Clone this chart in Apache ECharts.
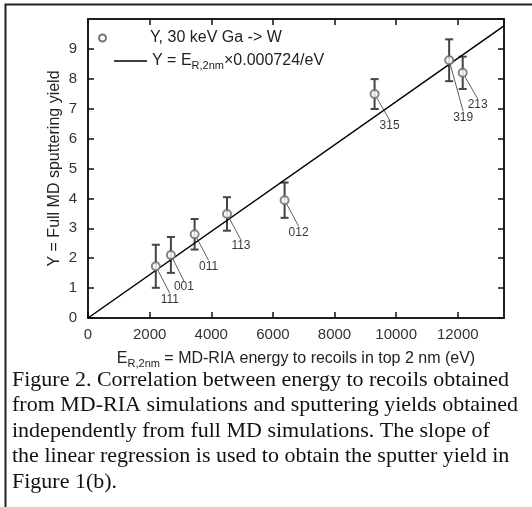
<!DOCTYPE html>
<html>
<head>
<meta charset="utf-8">
<script src="https://cdn.jsdelivr.net/npm/echarts@6/dist/echarts.min.js"></script>
<style>
  html, body { margin: 0; padding: 0; background: #fff; }
  #chart { width: 532px; height: 507px; }
</style>
</head>
<body>
<div id="chart"></div>
<script>
// surface planes and their MD-RIA recoil energy vs full MD yield
const planes = ["111", "001", "011", "113", "012", "315", "319", "213"];
const energy = [2200, 2690, 3460, 4510, 6380, 9300, 11720, 12160];
const yieldMD = [1.73, 2.11, 2.8, 3.48, 3.94, 7.49, 8.62, 8.2];
const yieldErr = [0.72, 0.6, 0.51, 0.56, 0.59, 0.5, 0.7, 0.54];

// regression line end points (slope 0.000724 / eV)
const fitX = [0, 13500];
const fitY = [0, 9.77];

const caption = [
  "Figure 2. Correlation between energy to recoils obtained",
  "from MD-RIA simulations and sputtering yields obtained",
  "independently from full MD simulations. The slope of",
  "the linear regression is used to obtain the sputter yield in",
  "Figure 1(b)."
];

// where each plane label sits relative to its point
const labelOffsets = [[14, 33], [13, 32], [14, 32], [14, 32], [14, 32], [15, 32], [14, 57], [15, 32]];

const font = "Liberation Sans";
const dataName = "Y, 30 keV Ga -> W";
const fitName = "Y = ER,2nm×0.000724/eV";

let pts = energy.map((x, i) => ({ value: [x, yieldMD[i]], name: planes[i] }));
let bars = energy.map((x, i) => [x, yieldMD[i] - yieldErr[i], yieldMD[i] + yieldErr[i]]);
let fitData = fitX.map((x, i) => [x, fitY[i]]);

const subRich = {
  t: { fontSize: 16, fontFamily: font, color: "#222", lineHeight: 20 },
  sub: { fontSize: 11, fontFamily: font, color: "#222", verticalAlign: "bottom", lineHeight: 10 },
  pad: { width: 26 }
};

const tickStyle = { inside: true, length: 6, lineStyle: { color: "#111", width: 1.5 } };
const lineStyle = { onZero: false, lineStyle: { color: "#111", width: 1.5 } };

let myChart = echarts.init(document.getElementById("chart"));
let option = {
  animation: false,
  backgroundColor: "#fff",
  grid: {
    left: 88,
    top: 19,
    right: 28,
    bottom: 189,
    show: true,
    borderColor: "#111",
    borderWidth: 1.5
  },
  legend: [
    {
      data: [{ name: dataName, icon: "emptyCircle" }],
      left: 98,
      top: 30,
      padding: 0,
      itemWidth: 33,
      itemHeight: 7,
      itemStyle: { color: "#555", borderWidth: 1 },
      formatter: (name) => "{pad| }{t|" + name + "}",
      textStyle: { rich: subRich }
    },
    {
      data: [{ name: fitName, icon: "rect" }],
      left: 114,
      top: 53,
      padding: 0,
      itemWidth: 33,
      itemHeight: 1.5,
      formatter: () => "{t|Y = E}{sub|R,2nm}{t|×0.000724/eV}",
      textStyle: { rich: subRich }
    }
  ],
  xAxis: [
    {
      type: "value",
      min: 0,
      max: 13500,
      interval: 2000,
      name: "{t|E}{sub|R,2nm}{t| = MD-RIA energy to recoils in top 2 nm (eV)}",
      nameLocation: "middle",
      nameGap: 31,
      nameMoveOverlap: false,
      nameTextStyle: { rich: subRich },
      axisLine: lineStyle,
      axisTick: tickStyle,
      axisLabel: {
        margin: 9,
        fontSize: 15,
        fontFamily: font,
        color: "#333",
        showMaxLabel: false,
        formatter: (v) => String(v)
      },
      splitLine: { show: false }
    },
    {
      type: "value",
      position: "top",
      min: 0,
      max: 13500,
      interval: 2000,
      axisLine: lineStyle,
      axisTick: tickStyle,
      axisLabel: { show: false },
      splitLine: { show: false }
    }
  ],
  yAxis: [
    {
      type: "value",
      min: 0,
      max: 10,
      interval: 1,
      name: "Y = Full MD sputtering yield",
      nameLocation: "middle",
      nameGap: 25,
      nameMoveOverlap: false,
      nameTextStyle: { fontSize: 16, fontFamily: font, color: "#222" },
      axisLine: lineStyle,
      axisTick: tickStyle,
      axisLabel: { margin: 11, fontSize: 15, fontFamily: font, color: "#333", showMaxLabel: false },
      splitLine: { show: false }
    },
    {
      type: "value",
      position: "right",
      min: 0,
      max: 10,
      interval: 1,
      axisLine: lineStyle,
      axisTick: tickStyle,
      axisLabel: { show: false },
      splitLine: { show: false }
    }
  ],
  graphic: [
    {
      type: "polyline",
      shape: { points: [[5.5, 507], [5.5, 4.5], [532, 4.5]] },
      style: { stroke: "#222", lineWidth: 2, fill: null }
    },
    {
      type: "text",
      left: 12,
      top: 367,
      style: {
        text: caption.join("\n"),
        font: '22px "Liberation Serif"',
        lineHeight: 25.5,
        fill: "#111"
      }
    }
  ],
  series: [
    {
      name: "errors",
      type: "custom",
      data: bars,
      z: 3,
      renderItem: function (params, api) {
        let x = api.value(0);
        let lo = api.coord([x, api.value(1)]);
        let hi = api.coord([x, api.value(2)]);
        let cap = 4;
        let st = { stroke: "#444", lineWidth: 2 };
        return {
          type: "group",
          children: [
            { type: "line", shape: { x1: lo[0], y1: lo[1], x2: hi[0], y2: hi[1] }, style: st },
            { type: "line", shape: { x1: lo[0] - cap, y1: lo[1], x2: lo[0] + cap, y2: lo[1] }, style: st },
            { type: "line", shape: { x1: hi[0] - cap, y1: hi[1], x2: hi[0] + cap, y2: hi[1] }, style: st }
          ]
        };
      }
    },
    {
      name: fitName,
      type: "line",
      data: fitData,
      symbol: "none",
      z: 4,
      lineStyle: { color: "#000", width: 1.5 },
      itemStyle: { color: "#000" }
    },
    {
      name: dataName,
      type: "scatter",
      data: pts,
      symbol: "emptyCircle",
      symbolSize: 8,
      z: 5,
      itemStyle: { color: "#666", borderWidth: 1.3 },
      label: {
        show: true,
        position: "inside",
        formatter: (p) => p.name,
        fontSize: 12,
        fontFamily: font,
        color: "#000"
      },
      labelLayout: function (params) {
        let off = labelOffsets[params.dataIndex];
        return { dx: off[0], dy: off[1] };
      },
      labelLine: { show: true, lineStyle: { color: "#333", width: 0.8 } }
    }
  ]
};
myChart.setOption(option);
</script>
</body>
</html>
